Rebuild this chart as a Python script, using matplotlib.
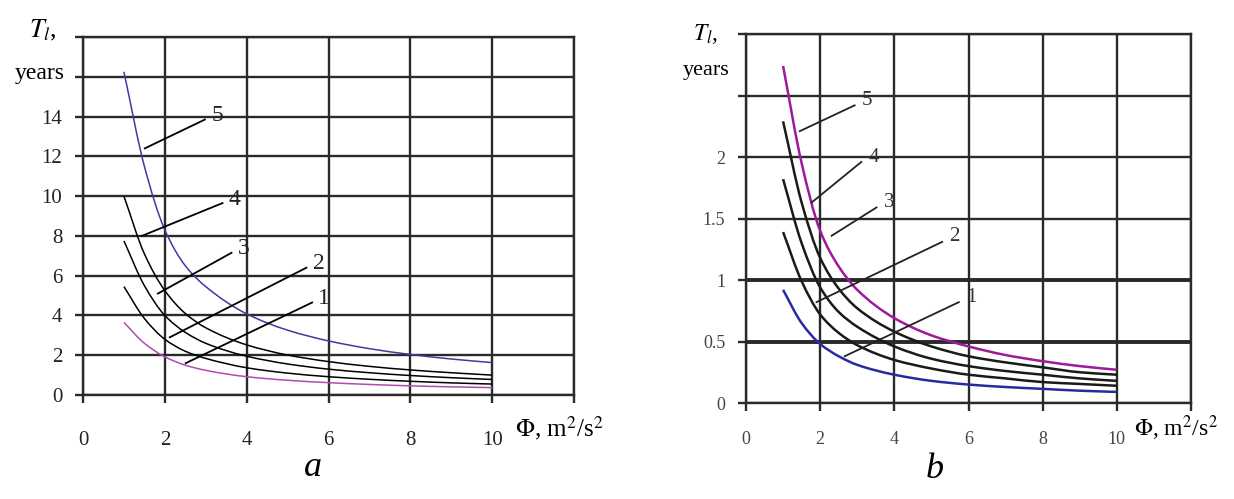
import numpy as np
import matplotlib
matplotlib.use("Agg")
import matplotlib.pyplot as plt
from matplotlib.path import Path
from matplotlib.patches import PathPatch

plt.rcParams['font.family'] = ['Liberation Serif', 'DejaVu Serif']
plt.rcParams['mathtext.fontset'] = 'stix'

# дані
phi = [1, 1.5, 2, 2.5, 3, 4, 5, 6, 7, 8, 9, 10]

# панель a
a_t1 = [3.65, 2.6, 1.92, 1.5, 1.24, 0.92, 0.74, 0.62, 0.53, 0.46, 0.41, 0.37]
a_t2 = [5.45, 3.85, 2.8, 2.2, 1.84, 1.37, 1.1, 0.92, 0.79, 0.69, 0.61, 0.55]
a_t3 = [7.75, 5.5, 4.0, 3.15, 2.6, 1.95, 1.56, 1.3, 1.12, 0.98, 0.87, 0.78]
a_t4 = [10.0, 7.1, 5.25, 4.1, 3.38, 2.52, 2.01, 1.68, 1.44, 1.26, 1.12, 1.0]
a_t5 = [16.25, 11.5, 8.3, 6.5, 5.45, 4.08, 3.26, 2.72, 2.33, 2.04, 1.81, 1.63]

# панель b
b_t1 = [0.92, 0.65, 0.48, 0.38, 0.31, 0.23, 0.18, 0.15, 0.13, 0.115, 0.10, 0.09]
b_t2 = [1.39, 0.99, 0.72, 0.57, 0.47, 0.35, 0.28, 0.23, 0.20, 0.17, 0.155, 0.14]
b_t3 = [1.82, 1.30, 0.94, 0.74, 0.62, 0.46, 0.36, 0.30, 0.26, 0.23, 0.20, 0.18]
b_t4 = [2.29, 1.63, 1.18, 0.93, 0.77, 0.58, 0.46, 0.38, 0.33, 0.29, 0.25, 0.23]
b_t5 = [2.74, 1.95, 1.40, 1.11, 0.92, 0.69, 0.55, 0.46, 0.39, 0.34, 0.30, 0.27]

curve_names = ['1', '2', '3', '4', '5']

# виноски з номерами кривих: початок на кривій і кінець
a_lead_x0 = [2.51, 2.12, 1.83, 1.44, 1.51]
a_lead_y0 = [1.6, 2.9, 5.1, 8.0, 12.4]
a_lead_x1 = [5.6, 5.46, 3.63, 3.41, 2.98]
a_lead_y1 = [4.65, 6.4, 7.15, 9.65, 13.85]

b_lead_x0 = [2.66, 1.9, 2.31, 1.77, 1.45]
b_lead_y0 = [0.38, 0.82, 1.36, 1.63, 2.21]
b_lead_x1 = [5.74, 5.29, 3.52, 3.11, 2.93]
b_lead_y1 = [0.82, 1.31, 1.59, 1.96, 2.42]

a_yticks = [0, 2, 4, 6, 8, 10, 12, 14, 16, 18]
a_ylabels = ['0', '2', '4', '6', '8', '10', '12', '14', '', '']
b_yticks = [0, 0.5, 1, 1.5, 2, 2.5, 3]
b_ylabels = ['0', '0.5', '1', '1.5', '2', '', '']
xticks = [0, 2, 4, 6, 8, 10, 12]
xlabels = ['0', '2', '4', '6', '8', '10', '']


def smooth_line(ax, xs, ys, color, lw):
    # плавна лінія через точки (монотонні кубічні криві Безьє, без хвиль)
    x = np.asarray(xs, float)
    y = np.asarray(ys, float)
    h = np.diff(x)
    d = np.diff(y) / h
    m = np.zeros_like(y)
    m[0], m[-1] = d[0], d[-1]
    for i in range(1, len(x) - 1):
        if d[i - 1] * d[i] > 0:
            w1 = 2 * h[i] + h[i - 1]
            w2 = h[i] + 2 * h[i - 1]
            m[i] = (w1 + w2) / (w1 / d[i - 1] + w2 / d[i])
    verts = [(x[0], y[0])]
    codes = [Path.MOVETO]
    for i in range(len(x) - 1):
        verts += [(x[i] + h[i] / 3, y[i] + m[i] * h[i] / 3),
                  (x[i + 1] - h[i] / 3, y[i + 1] - m[i + 1] * h[i] / 3),
                  (x[i + 1], y[i + 1])]
        codes += [Path.CURVE4] * 3
    ax.add_patch(PathPatch(Path(verts, codes), fill=False, edgecolor=color,
                           lw=lw, zorder=3))


def style_axes(ax, ylim, yticks, ylabels, tsize, tcolor):
    ax.set_xlim(0, 12)
    ax.set_ylim(*ylim)
    ax.set_xticks(xticks)
    ax.set_xticklabels(xlabels)
    ax.set_yticks(yticks)
    ax.set_yticklabels(ylabels)
    ax.grid(True, color='#2a2a2a', lw=1.7)
    ax.set_axisbelow(True)
    for s in ax.spines.values():
        s.set_color('#2a2a2a')
        s.set_linewidth(1.7)
    ax.tick_params(axis='both', direction='out', length=6, width=1.7,
                   color='#2a2a2a', labelsize=tsize, labelcolor=tcolor)
    ax.tick_params(axis='y', pad=9)


W, H = 1234, 499
fig = plt.figure(figsize=(W / 100, H / 100), dpi=100)

# ---------- панель a ----------
ax_a = fig.add_axes([83 / W, 1 - 395 / H, (574 - 83) / W, (395 - 37) / H])
style_axes(ax_a, (0, 18), a_yticks, a_ylabels, 15, '#222222')
ax_a.tick_params(axis='x', pad=20)

a_data = [a_t1, a_t2, a_t3, a_t4, a_t5]
a_colors = ['#b04cb0', 'black', 'black', 'black', '#3c3c9c']
for t, c in zip(a_data, a_colors):
    smooth_line(ax_a, phi, t, c, 1.1)

for i in range(5):
    ax_a.plot([a_lead_x0[i], a_lead_x1[i]], [a_lead_y0[i], a_lead_y1[i]],
              color='black', lw=1.3, zorder=4)
    ax_a.text(a_lead_x1[i] + 0.15, a_lead_y1[i] + 0.2, curve_names[i],
              fontsize=17, ha='left', va='center', color='#222222')

fig.text(43 / W, 1 - 30 / H, r'$T_l$,', fontsize=19, ha='center', va='center')
fig.text(40 / W, 1 - 73 / H, 'years', fontsize=17, ha='center', va='center')
fig.text(515 / W, 1 - 428 / H, r'$\mathit{\Phi}$, m$^2$/s$^2$', fontsize=18,
         ha='left', va='center')
fig.text(313 / W, 1 - 468 / H, 'a', fontsize=26, style='italic',
         ha='center', va='center')

# ---------- панель b ----------
ax_b = fig.add_axes([746 / W, 1 - 403 / H, (1191 - 746) / W, (403 - 34) / H])
style_axes(ax_b, (0, 3), b_yticks, b_ylabels, 13, '#444444')
ax_b.tick_params(axis='x', pad=14)
for yl in [0.5, 1]:
    ax_b.axhline(yl, color='#2a2a2a', lw=2.8, zorder=1)

b_data = [b_t1, b_t2, b_t3, b_t4, b_t5]
b_colors = ['#2a2aa0', '#1a1a1a', '#1a1a1a', '#1a1a1a', '#a0189c']
for t, c in zip(b_data, b_colors):
    smooth_line(ax_b, phi, t, c, 1.8)

for i in range(5):
    ax_b.plot([b_lead_x0[i], b_lead_x1[i]], [b_lead_y0[i], b_lead_y1[i]],
              color='#222222', lw=1.3, zorder=4)
    ax_b.text(b_lead_x1[i] + 0.2, b_lead_y1[i] + 0.04, curve_names[i],
              fontsize=15, ha='left', va='center', color='#333333')

fig.text(706 / W, 1 - 34 / H, r'$T_l$,', fontsize=17, ha='center', va='center')
fig.text(706 / W, 1 - 70 / H, 'years', fontsize=16, ha='center', va='center')
fig.text(1134 / W, 1 - 428 / H, r'$\mathit{\Phi}$, m$^2$/s$^2$', fontsize=17,
         ha='left', va='center')
fig.text(935 / W, 1 - 470 / H, 'b', fontsize=26, style='italic',
         ha='center', va='center')

fig.savefig('out.png', dpi=100)
